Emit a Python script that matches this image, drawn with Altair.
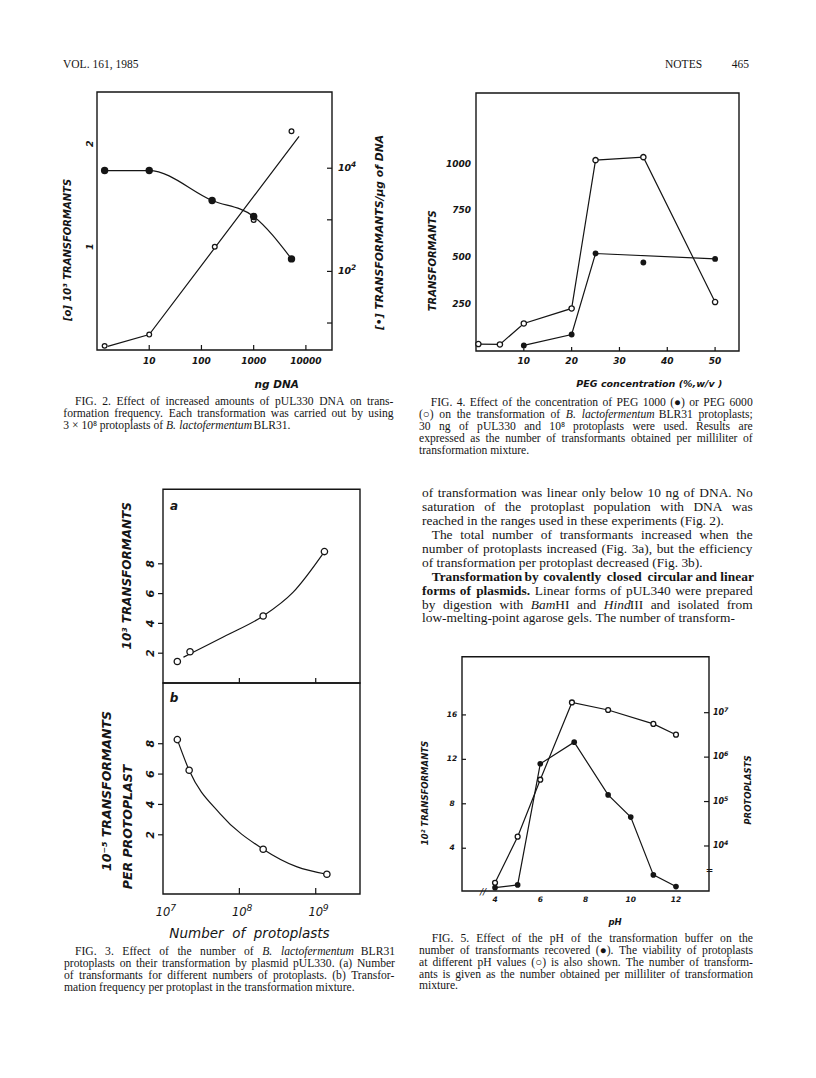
import re
import altair as alt
import pandas as pd

W, H = 800, 1062
INK = '#151515'
SANS = 'DejaVu Sans'
SERIF = 'Liberation Serif'
ONE = alt.Data(values=[{'k': 0}])


def px(v):
    return v - 8


# ---------------- data (read from the page) ----------------
# Fig. 2
F2_NG_OPEN = [1.4, 10, 180, 1000, 5300]
F2_OPEN = [0.04, 0.15, 1.0, 1.26, 2.12]            # 10^3 transformants
F2_LINE_NG = [1.6, 10, 7400]
F2_LINE = [0.035, 0.15, 2.07]
F2_NG_FILLED = [1.4, 10, 160, 1000, 5300]
F2_FILLED = [9000, 9000, 2370, 1160, 175]          # transformants / µg DNA
F2_XTICKS = [10, 100, 1000, 10000]
F2_XLABELS = ['10', '100', '1000', '10000']
F2_LVALS = [1, 2]
F2_LLABELS = ['1', '2']
F2_RTICKS = [10, 100, 1000, 10000]
F2_RVALS = [100, 10000]
F2_REXP = ['2', '4']

# Fig. 3
F3_N_A = [1.54e7, 2.26e7, 2.05e8, 1.3e9]
F3_A = [1.44, 2.1, 4.5, 8.82]
F3_CURVE_N_A = [1.85e7, 6.8e7, 2.05e8, 5.07e8, 1.3e9]
F3_CURVE_A = [1.73, 3.2, 4.5, 6.1, 8.82]
F3_N_B = [1.54e7, 2.2e7, 2.05e8, 1.4e9]
F3_B = [8.27, 6.25, 1.05, -0.6]
F3_CURVE_N_B = [1.54e7, 2.2e7, 5.57e7, 2.05e8, 5.6e8, 1.4e9]
F3_CURVE_B = [8.27, 6.25, 3.4, 1.05, -0.1, -0.6]
F3_XTICKS = [1e8, 1e9]
F3_XVALS = [1e7, 1e8, 1e9]
F3_XEXP = ['7', '8', '9']
F3_YVALS = [2, 4, 6, 8]
F3_YLABELS = ['2', '4', '6', '8']

# Fig. 4
F4_PEG_OPEN = [0.5, 5, 10, 20, 25, 35, 50]
F4_OPEN = [37, 35, 147, 227, 1018, 1034, 261]
F4_PEG_FILLED = [10, 20, 25, 35, 50]
F4_FILLED = [30, 88, 520, 472, 491]
F4_LINE_PEG = [10, 20, 25, 50]
F4_LINE = [30, 88, 520, 491]
F4_XVALS = [10, 20, 30, 40, 50]
F4_XLABELS = ['10', '20', '30', '40', '50']
F4_YVALS = [250, 500, 750, 1000]
F4_YLABELS = ['250', '500', '750', '1000']

# Fig. 5
F5_PH_T = [4, 5, 6, 7.5, 9, 10, 11, 12]
F5_T = [0.45, 0.7, 11.6, 13.55, 8.8, 6.8, 1.6, 0.55]
F5_PH_V = [4, 5, 6, 7.4, 9, 11, 12]
F5_V = [1480, 16200, 3.1e5, 1.7e7, 1.15e7, 5.6e6, 3.2e6]
F5_XVALS = [4, 6, 8, 10, 12]
F5_XLABELS = ['4', '6', '8', '10', '12']
F5_YVALS = [4, 8, 12, 16]
F5_YLABELS = ['4', '8', '12', '16']
F5_RVALS = [1e4, 1e5, 1e6, 1e7]
F5_REXP = ['4', '5', '6', '7']

# ---------------- page text ----------------
CAP2 = [
    "FIG. 2. Effect of increased amounts of pUL330 DNA on trans-",
    "formation frequency. Each transformation was carried out by using",
    "3 × 10⁸ protoplasts of *B. lactofermentum* BLR31.",
]
CAP4 = [
    "FIG. 4. Effect of the concentration of PEG 1000 (●) or PEG 6000",
    "(○) on the transformation of *B. lactofermentum* BLR31 protoplasts;",
    "30 ng of pUL330 and 10⁸ protoplasts were used. Results are",
    "expressed as the number of transformants obtained per milliliter of",
    "transformation mixture.",
]
BODY = [
    "of transformation was linear only below 10 ng of DNA. No",
    "saturation of the protoplast population with DNA was",
    "reached in the ranges used in these experiments (Fig. 2).",
    "The total number of transformants increased when the",
    "number of protoplasts increased (Fig. 3a), but the efficiency",
    "of transformation per protoplast decreased (Fig. 3b).",
    "**Transformation by covalently closed circular and linear**",
    "**forms of plasmids.** Linear forms of pUL340 were prepared",
    "by digestion with *Bam*HI and *Hind*III and isolated from",
    "low-melting-point agarose gels. The number of transform-",
]
CAP3 = [
    "FIG. 3. Effect of the number of *B. lactofermentum* BLR31",
    "protoplasts on their transformation by plasmid pUL330. (a) Number",
    "of transformants for different numbers of protoplasts. (b) Transfor-",
    "mation frequency per protoplast in the transformation mixture.",
]
CAP5 = [
    "FIG. 5. Effect of the pH of the transformation buffer on the",
    "number of transformants recovered (●). The viability of protoplasts",
    "at different pH values (○) is also shown. The number of transform-",
    "ants is given as the number obtained per milliliter of transformation",
    "mixture.",
]

# approximate Times metrics (1/1000 em), used only to justify the lines
CW = {' ': 250, ',': 250, '.': 250, ';': 278, ':': 278, '(': 333, ')': 333, '-': 333,
      '×': 564, '●': 600, '○': 600, '⁸': 320, '/': 278, '%': 833}
for c in '0123456789':
    CW[c] = 500
CW.update(dict(zip('ABCDEFGHIJKLMNOPQRSTUVWXYZ',
                   [722, 667, 667, 722, 611, 556, 722, 722, 333, 389, 722, 611, 889,
                    722, 722, 556, 722, 667, 556, 611, 722, 722, 944, 722, 722, 611])))
CW.update(dict(zip('abcdefghijklmnopqrstuvwxyz',
                   [444, 500, 444, 500, 444, 333, 500, 500, 278, 278, 500, 278, 778,
                    500, 500, 500, 500, 333, 389, 278, 500, 500, 722, 500, 500, 444])))
STF = {'n': 1.0, 'b': 1.06, 'i': 0.97}


def tw(s, fs, st):
    return sum(CW.get(c, 500) for c in s) / 1000.0 * fs * STF[st]


def segments(line):
    out = []
    for part in re.split(r'(\*\*.+?\*\*|\*.+?\*)', line):
        if not part:
            continue
        if part.startswith('**'):
            out.append((part[2:-2], 'b'))
        elif part.startswith('*'):
            out.append((part[1:-1], 'i'))
        else:
            out.append((part, 'n'))
    return out


def words_of(segs):
    words = [[]]
    for text, st in segs:
        parts = text.split(' ')
        for k, p in enumerate(parts):
            if k > 0:
                words.append([])
            if p:
                words[-1].append((p, st))
    return [w for w in words if w]


def layout(lines, ys, x_first, x_rest, right, fs, first=(0,), last=None):
    rows = []
    last = set(last or [len(lines) - 1])
    for i, line in enumerate(lines):
        x0 = x_first if i in first else x_rest
        words = words_of(segments(line))
        widths = [sum(tw(p, fs, st) for p, st in w) for w in words]
        if i in last or len(words) < 2:
            gap = 0.25 * fs
        else:
            gap = (right - x0 - sum(widths)) / (len(words) - 1)
        x = x0
        for w, wd in zip(words, widths):
            xx = x
            for p, st in w:
                rows.append(dict(t=p, x=px(xx), y=px(ys[i]), st=st, fs=fs))
                xx += tw(p, fs, st)
            x += wd + gap
    return rows


CFS = 11.6
ROWS = []
ROWS += layout(CAP2, [401.7, 414.0, 426.2], 75, 63.3, 393.5, CFS)
ROWS += layout(CAP4, [402.7, 414.7, 426.7, 438.7, 450.7], 430.7, 419, 752.7, CFS)
ROWS += layout(BODY, [493.3 + 13.9 * k for k in range(10)], 431.7, 422, 752.7, 13.4,
               first=(3, 6), last=(2, 5, 9))
ROWS += layout(CAP3, [951.7, 963.5, 975.7, 987.7], 75, 64, 395, CFS)
ROWS += layout(CAP5, [939.3, 951.0, 962.8, 974.5, 986.3], 431.7, 419, 753, CFS)
WORDS = pd.DataFrame(ROWS)


def word_layer(st, weight, style):
    return alt.Chart(WORDS).transform_filter(alt.datum.st == st).mark_text(
        align='left', baseline='middle', font=SERIF, fontWeight=weight,
        fontStyle=style, color=INK).encode(
        x=alt.X('x:Q', scale=None, axis=None),
        y=alt.Y('y:Q', scale=None, axis=None),
        text='t:N',
        size=alt.Size('fs:Q', scale=None, legend=None))


def T(s, x, y, size=12, font=SANS, style='italic', weight='bold', angle=0,
      align='center', baseline='middle'):
    return alt.Chart(ONE).mark_text(
        text=s, font=font, fontSize=size, fontStyle=style, fontWeight=weight,
        angle=angle, align=align, baseline=baseline, color=INK).encode(
        x=alt.value(px(x)), y=alt.value(px(y)))


def frame(xs, ys, xd, yd, sw=1.4):
    return alt.Chart(ONE).mark_rect(fillOpacity=0, stroke=INK, strokeWidth=sw).encode(
        x=alt.XDatum(xd[0], type='quantitative', scale=xs, axis=None),
        x2=alt.X2Datum(xd[1]),
        y=alt.YDatum(yd[0], type='quantitative', scale=ys, axis=None),
        y2=alt.Y2Datum(yd[1]))


def line(xv, yv, xs, ys, interp='linear', sw=1.2):
    return alt.Chart(pd.DataFrame({'x': xv, 'y': yv})).mark_line(
        color=INK, strokeWidth=sw, interpolate=interp).encode(
        x=alt.X('x:Q', scale=xs, axis=None), y=alt.Y('y:Q', scale=ys, axis=None))


def dots(xv, yv, xs, ys, filled, size):
    base = alt.Chart(pd.DataFrame({'x': xv, 'y': yv}))
    if filled:
        m = base.mark_circle(color=INK, size=size, opacity=1)
    else:
        m = base.mark_circle(fill='white', stroke=INK, strokeWidth=1.3, size=size, opacity=1)
    return m.encode(x=alt.X('x:Q', scale=xs, axis=None), y=alt.Y('y:Q', scale=ys, axis=None))


def xticks(vals, xs, ys, y_at, L=5):
    return alt.Chart(pd.DataFrame({'v': vals})).mark_tick(
        orient='vertical', size=L, thickness=1.2, color=INK, opacity=1, yOffset=-L / 2).encode(
        x=alt.X('v:Q', scale=xs, axis=None),
        y=alt.YDatum(y_at, type='quantitative', scale=ys, axis=None))


def yticks(vals, xs, ys, x_at, L=5, direction=-1):
    return alt.Chart(pd.DataFrame({'v': vals})).mark_tick(
        orient='horizontal', size=L, thickness=1.2, color=INK, opacity=1,
        xOffset=direction * L / 2).encode(
        x=alt.XDatum(x_at, type='quantitative', scale=xs, axis=None),
        y=alt.Y('v:Q', scale=ys, axis=None))


def xlabels(vals, labels, xs, ys, y_at, off, size, weight='bold', dx=0, align='center'):
    return alt.Chart(pd.DataFrame({'v': vals, 'l': labels})).mark_text(
        yOffset=off, xOffset=dx, align=align, baseline='middle', font=SANS, fontSize=size,
        fontStyle='italic', fontWeight=weight, color=INK).encode(
        x=alt.X('v:Q', scale=xs, axis=None),
        y=alt.YDatum(y_at, type='quantitative', scale=ys, axis=None),
        text='l:N')


def ylabels(vals, labels, xs, ys, x_at, off, size, angle=0, align='center', dy=0,
            weight='bold'):
    return alt.Chart(pd.DataFrame({'v': vals, 'l': labels})).mark_text(
        xOffset=off, yOffset=dy, angle=angle, align=align, baseline='middle', font=SANS,
        fontSize=size, fontStyle='italic', fontWeight=weight, color=INK).encode(
        x=alt.XDatum(x_at, type='quantitative', scale=xs, axis=None),
        y=alt.Y('v:Q', scale=ys, axis=None),
        text='l:N')


def pow_ylabels(vals, exps, xs, ys, x_at, off, size):
    """'10' followed by a raised exponent, left-aligned beside a right-hand axis."""
    base = ylabels(vals, ['10'] * len(vals), xs, ys, x_at, off, size, align='left')
    sup = ylabels(vals, exps, xs, ys, x_at, off + 1.36 * size, 0.78 * size,
                  align='left', dy=-0.38 * size)
    return alt.layer(base, sup)


def pow_xlabels(vals, exps, xs, ys, y_at, off, size):
    """'10' centred on the tick with a raised exponent to its right."""
    base = xlabels(vals, ['10'] * len(vals), xs, ys, y_at, off, size, weight='normal')
    sup = xlabels(vals, exps, xs, ys, y_at, off - 0.4 * size, 0.8 * size,
                  weight='normal', dx=0.62 * size, align='left')
    return alt.layer(base, sup)


# ---------------- Fig. 2 ----------------
X2D = [1, 31623]
xs2 = alt.Scale(type='log', domain=X2D, range=[px(97), px(332)])
yl2 = alt.Scale(domain=[0, 2.5], range=[px(350), px(92)])
yr2 = alt.Scale(type='log', domain=[3, 3e5], range=[px(350), px(92)])
left2 = alt.layer(
    frame(xs2, yl2, X2D, [0, 2.5]),
    xticks(F2_XTICKS, xs2, yl2, 0),
    xlabels(F2_XTICKS, F2_XLABELS, xs2, yl2, 0, 11, 9),
    ylabels(F2_LVALS, F2_LLABELS, xs2, yl2, X2D[0], -7, 9.5, angle=270),
    line(F2_LINE_NG, F2_LINE, xs2, yl2),
    dots(F2_NG_OPEN, F2_OPEN, xs2, yl2, False, 22),
)
right2 = alt.layer(
    yticks(F2_RTICKS, xs2, yr2, X2D[1], 5, -1),
    pow_ylabels(F2_RVALS, F2_REXP, xs2, yr2, X2D[1], 6, 9.5),
    line(F2_NG_FILLED, F2_FILLED, xs2, yr2, 'monotone'),
    dots(F2_NG_FILLED, F2_FILLED, xs2, yr2, True, 55),
)
fig2 = alt.layer(left2, right2).resolve_scale(y='independent')

# ---------------- Fig. 3 ----------------
X3D = [1e7, 3.8e9]
xs3 = alt.Scale(type='log', domain=X3D, range=[px(163), px(360)])
ya3 = alt.Scale(domain=[0, 13], range=[px(683), px(489.3)])
yb3 = alt.Scale(domain=[-1.9, 12], range=[px(894), px(683)])
fig3a = alt.layer(
    frame(xs3, ya3, X3D, [0, 13]),
    xticks(F3_XTICKS, xs3, ya3, 0),
    yticks(F3_YVALS, xs3, ya3, X3D[0], 5, -1),
    ylabels(F3_YVALS, F3_YLABELS, xs3, ya3, X3D[0], -12, 11, angle=270),
    line(F3_CURVE_N_A, F3_CURVE_A, xs3, ya3, 'monotone'),
    dots(F3_N_A, F3_A, xs3, ya3, False, 40),
)
fig3b = alt.layer(
    frame(xs3, yb3, X3D, [-1.9, 12]),
    xticks(F3_XTICKS, xs3, yb3, -1.9, 6),
    yticks(F3_YVALS, xs3, yb3, X3D[0], 5, -1),
    ylabels(F3_YVALS, F3_YLABELS, xs3, yb3, X3D[0], -12, 11, angle=270),
    pow_xlabels(F3_XVALS, F3_XEXP, xs3, yb3, -1.9, 19, 11.5),
    line(F3_CURVE_N_B, F3_CURVE_B, xs3, yb3, 'monotone'),
    dots(F3_N_B, F3_B, xs3, yb3, False, 40),
)

# ---------------- Fig. 4 ----------------
X4D = [0, 55]
xs4 = alt.Scale(domain=X4D, range=[px(476), px(739)])
ys4 = alt.Scale(domain=[0, 1376], range=[px(351), px(93)])
fig4 = alt.layer(
    frame(xs4, ys4, X4D, [0, 1376]),
    xticks(F4_XVALS, xs4, ys4, 0, 4),
    xlabels(F4_XVALS, F4_XLABELS, xs4, ys4, 0, 9.5, 9),
    ylabels(F4_YVALS, F4_YLABELS, xs4, ys4, X4D[0], -5, 9, align='right'),
    line(F4_PEG_OPEN, F4_OPEN, xs4, ys4),
    line(F4_LINE_PEG, F4_LINE, xs4, ys4),
    dots(F4_PEG_OPEN, F4_OPEN, xs4, ys4, False, 28),
    dots(F4_PEG_FILLED, F4_FILLED, xs4, ys4, True, 34),
)

# ---------------- Fig. 5 ----------------
X5D = [2.54, 13.46]
xs5 = alt.Scale(domain=X5D, range=[px(462), px(709)])
yl5 = alt.Scale(domain=[0.15, 21.24], range=[px(891), px(656.7)])
yr5 = alt.Scale(type='log', domain=[970, 1.82e8], range=[px(891), px(656.7)])
left5 = alt.layer(
    frame(xs5, yl5, X5D, [0.15, 21.24]),
    yticks(F5_YVALS, xs5, yl5, X5D[0], 4, 1),
    xlabels(F5_XVALS, F5_XLABELS, xs5, yl5, 0.15, 9, 7.5),
    ylabels(F5_YVALS, F5_YLABELS, xs5, yl5, X5D[0], -10, 7.5),
    line(F5_PH_T, F5_T, xs5, yl5),
)
right5 = alt.layer(
    yticks(F5_RVALS, xs5, yr5, X5D[1], 5, -1),
    pow_ylabels(F5_RVALS, F5_REXP, xs5, yr5, X5D[1], 4, 8),
    line(F5_PH_V, F5_V, xs5, yr5),
    dots(F5_PH_V, F5_V, xs5, yr5, False, 24),
)
fig5 = alt.layer(left5, right5, dots(F5_PH_T, F5_T, xs5, yl5, True, 32)).resolve_scale(y='independent')

# ---------------- free text ----------------
texts = [
    T('VOL. 161, 1985', 63, 64.5, 11.5, SERIF, 'normal', 'normal', align='left'),
    T('NOTES', 665, 65, 11.5, SERIF, 'normal', 'normal', align='left'),
    T('465', 731.7, 65, 11.5, SERIF, 'normal', 'normal', align='left'),
    # Fig 2
    T('[o] 10³ TRANSFORMANTS', 68, 250, 10, angle=270),
    T('[•] TRANSFORMANTS/µg of DNA', 380, 232.5, 10.8, angle=270),
    T('ng DNA', 276.7, 385, 10.5),
    # Fig 4
    T('TRANSFORMANTS', 433, 260.8, 10, angle=270),
    T('PEG concentration (%,w/v )', 649.3, 384, 9.5),
    # Fig 3
    T('a', 174, 505.7, 12),
    T('b', 174, 698.3, 12),
    T('10³ TRANSFORMANTS', 127, 575.8, 12, angle=270),
    T('10⁻⁵ TRANSFORMANTS', 107, 791, 12.5, angle=270),
    T('PER PROTOPLAST', 127.7, 827, 12.5, angle=270),
    T('Number\u00a0\u00a0of\u00a0\u00a0protoplasts', 249.5, 934, 13.5, weight='normal'),
    # Fig 5
    T('10² TRANSFORMANTS', 425, 793, 8.5, angle=270),
    T('PROTOPLASTS', 748.3, 790, 8.5, angle=270),
    T('pH', 615, 921.7, 8.5),
    T('//', 483, 891.5, 9, weight='normal'),
    T('=', 709.5, 870, 9, style='normal'),
    word_layer('n', 'normal', 'normal'),
    word_layer('b', 'bold', 'normal'),
    word_layer('i', 'normal', 'italic'),
]

chart = alt.layer(fig2, fig3a, fig3b, fig4, fig5, *texts).resolve_scale(
    x='independent', y='independent'
).properties(
    width=W, height=H, padding=0, background='white',
    autosize=alt.AutoSizeParams(type='none')
).configure_view(strokeWidth=0)

chart.save("out.html", embed_options={"renderer": "svg", "actions": False})
